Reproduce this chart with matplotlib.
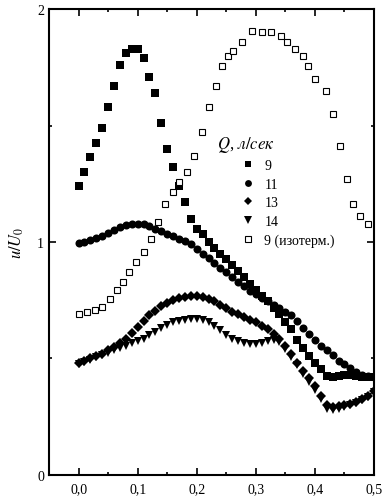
import matplotlib
matplotlib.use("Agg")
import matplotlib.pyplot as plt
from matplotlib.ticker import MultipleLocator, FuncFormatter

plt.rcParams["font.family"] = ["Liberation Serif", "DejaVu Serif"]
plt.rcParams["mathtext.fontset"] = "stix"

# measurement positions for the filled-marker series
x_pos = [0.00, 0.01, 0.02, 0.03, 0.04, 0.05, 0.06, 0.07, 0.08, 0.09,
         0.10, 0.11, 0.12, 0.13, 0.14, 0.15, 0.16, 0.17, 0.18, 0.19,
         0.20, 0.21, 0.22, 0.23, 0.24, 0.25, 0.26, 0.27, 0.28, 0.29,
         0.30, 0.31, 0.32, 0.33, 0.34, 0.35, 0.36, 0.37, 0.38, 0.39,
         0.40, 0.41, 0.42, 0.43, 0.44, 0.45, 0.46, 0.47, 0.48, 0.49, 0.50]

q9 = [1.24, 1.30, 1.365, 1.425, 1.49, 1.58, 1.67, 1.76, 1.81, 1.83,
      1.83, 1.79, 1.71, 1.64, 1.51, 1.40, 1.32, 1.24, 1.17, 1.10,
      1.055, 1.035, 1.00, 0.975, 0.95, 0.925, 0.90, 0.875, 0.85, 0.82,
      0.795, 0.77, 0.745, 0.715, 0.69, 0.655, 0.625, 0.58, 0.545, 0.51,
      0.48, 0.455, 0.425, 0.42, 0.425, 0.43, 0.43, 0.425, 0.42, 0.42, 0.42]

q11 = [0.995, 1.00, 1.01, 1.017, 1.025, 1.04, 1.052, 1.065, 1.073, 1.078,
       1.078, 1.075, 1.068, 1.055, 1.045, 1.035, 1.025, 1.013, 1.003, 0.99,
       0.97, 0.95, 0.93, 0.91, 0.89, 0.87, 0.85, 0.83, 0.81, 0.79,
       0.775, 0.76, 0.745, 0.73, 0.715, 0.70, 0.685, 0.66, 0.63, 0.605,
       0.58, 0.555, 0.535, 0.515, 0.49, 0.475, 0.46, 0.44, 0.43, 0.425, 0.42]

q13 = [0.48, 0.49, 0.50, 0.51, 0.52, 0.535, 0.55, 0.565, 0.585, 0.61,
       0.635, 0.66, 0.685, 0.705, 0.725, 0.74, 0.75, 0.758, 0.764, 0.768,
       0.77, 0.765, 0.755, 0.745, 0.73, 0.715, 0.70, 0.69, 0.68, 0.665,
       0.655, 0.64, 0.625, 0.605, 0.585, 0.555, 0.52, 0.48, 0.445, 0.415,
       0.38, 0.34, 0.30, 0.29, 0.295, 0.30, 0.305, 0.315, 0.325, 0.34, 0.36]

q14 = [0.475, 0.485, 0.495, 0.505, 0.515, 0.525, 0.535, 0.545, 0.555, 0.565,
       0.575, 0.585, 0.60, 0.615, 0.63, 0.645, 0.655, 0.66, 0.665, 0.668,
       0.668, 0.665, 0.655, 0.64, 0.62, 0.60, 0.585, 0.575, 0.565, 0.56,
       0.56, 0.565, 0.575, 0.58, 0.57, 0.54, 0.505, 0.47, 0.435, 0.40,
       0.365, 0.325, 0.285, 0.28, 0.285, 0.29, 0.30, 0.31, 0.32, 0.335, 0.355]

# isothermal run, 9 l/s
x_iso = [0.0, 0.014, 0.028, 0.04, 0.053, 0.065, 0.075, 0.086, 0.097, 0.111,
         0.123, 0.135, 0.147, 0.16, 0.17, 0.184, 0.196, 0.209, 0.221, 0.233,
         0.243, 0.253, 0.262, 0.277, 0.294, 0.311, 0.325, 0.342, 0.353, 0.367,
         0.379, 0.389, 0.40, 0.418, 0.43, 0.443, 0.455, 0.465, 0.477, 0.49]
q9_iso = [0.69, 0.70, 0.708, 0.72, 0.755, 0.795, 0.83, 0.87, 0.914, 0.957,
          1.013, 1.086, 1.163, 1.215, 1.258, 1.30, 1.37, 1.472, 1.58, 1.67,
          1.755, 1.80, 1.82, 1.858, 1.905, 1.90, 1.90, 1.884, 1.858, 1.83,
          1.80, 1.755, 1.70, 1.65, 1.55, 1.41, 1.27, 1.163, 1.11, 1.077]

labels = ["9", "11", "13", "14", "9 (изотерм.)"]

fig = plt.figure(figsize=(3.86, 5.02), dpi=100)
ax = fig.add_axes([0.127, 0.052, 0.842, 0.928])

ax.plot(x_pos, q9, "s", color="black", ms=5.4, mew=0, label=labels[0])
ax.plot(x_pos, q11, "o", color="black", ms=5.8, mew=0, label=labels[1])
ax.plot(x_pos, q13, "D", color="black", ms=5.0, mew=0, label=labels[2])
ax.plot(x_pos, q14, "v", color="black", ms=6.2, mew=0, label=labels[3])
ax.plot(x_iso, q9_iso, "s", mfc="white", mec="black", ms=5.0, mew=0.8, label=labels[4])

ax.set_xlim(-0.05, 0.5)
ax.set_ylim(0, 2)
ax.xaxis.set_major_locator(MultipleLocator(0.1))
ax.xaxis.set_minor_locator(MultipleLocator(0.05))
ax.yaxis.set_major_locator(MultipleLocator(1))
ax.yaxis.set_minor_locator(MultipleLocator(0.5))
ax.xaxis.set_major_formatter(FuncFormatter(lambda v, p: f"{v:.1f}".replace(".", ",")))
ax.yaxis.set_major_formatter(FuncFormatter(lambda v, p: f"{v:.0f}"))
ax.tick_params(which="both", direction="in", top=True, right=True, width=1.2, labelsize=10)
ax.tick_params(which="major", length=5)
ax.tick_params(which="minor", length=2.5)
ax.tick_params(axis="x", pad=5)
for s in ax.spines.values():
    s.set_linewidth(1.5)

ax.set_ylabel(r"$u/U_0$", fontsize=12, labelpad=8)

# legend title drawn separately so the entries sit indented under it
ax.text(0.517, 0.71, r"$Q$, $\mathit{л/сек}$", transform=ax.transAxes,
        fontsize=12, ha="left", va="center")
ax.legend(loc="upper left", bbox_to_anchor=(0.59, 0.678), frameon=False,
          fontsize=10, handlelength=1.0, handletextpad=0.7, markerscale=0.85,
          labelspacing=0.4, borderpad=0, borderaxespad=0)

fig.savefig("out.png", dpi=100)
